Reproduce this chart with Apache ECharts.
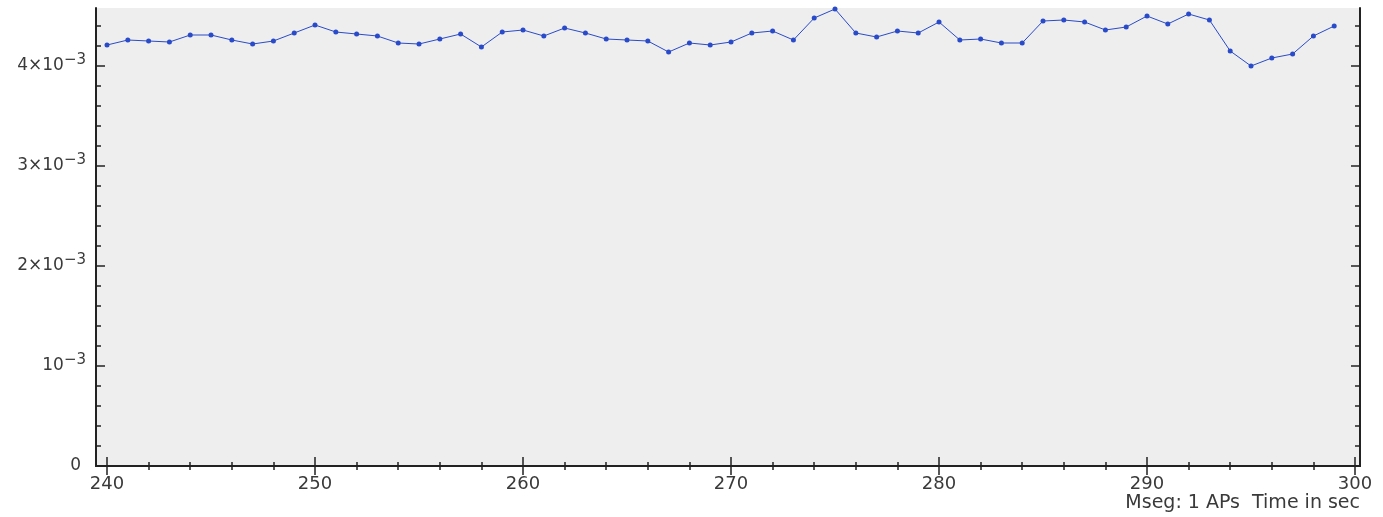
<!DOCTYPE html>
<html>
<head>
<meta charset="utf-8">
<script src="https://cdn.jsdelivr.net/npm/echarts@6/dist/echarts.min.js"></script>
<style>html,body{margin:0;padding:0;background:#fff;}#c{width:1383px;height:517px;}</style>
</head>
<body>
<div id="c"></div>
<script>
// ---- data ----
const times = [240,241,242,243,244,245,246,247,248,249,250,251,252,253,254,255,256,257,258,259,
  260,261,262,263,264,265,266,267,268,269,270,271,272,273,274,275,276,277,278,279,
  280,281,282,283,284,285,286,287,288,289,290,291,292,293,294,295,296,297,298,299];
const values = [4.21,4.26,4.25,4.24,4.31,4.31,4.26,4.22,4.25,4.33,4.41,4.34,4.32,4.30,4.23,4.22,4.27,4.32,4.19,4.34,
  4.36,4.30,4.38,4.33,4.27,4.26,4.25,4.14,4.23,4.21,4.24,4.33,4.35,4.26,4.48,4.57,4.33,4.29,4.35,4.33,
  4.44,4.26,4.27,4.23,4.23,4.45,4.46,4.44,4.36,4.39,4.50,4.42,4.52,4.46,4.15,4.00,4.08,4.12,4.30,4.40].map(v => v * 1e-3);
const xMajorTicks = [240,250,260,270,280,290,300];
const xMinorTicks = [240,242,244,246,248,250,252,254,256,258,260,262,264,266,268,270,272,274,276,278,280,282,284,286,288,290,292,294,296,298,300];
const yMajorTicks = [0,0.001,0.002,0.003,0.004];
const yMinorTicks = [0,0.0002,0.0004,0.0006,0.0008,0.001,0.0012,0.0014,0.0016,0.0018,0.002,0.0022,0.0024,0.0026,0.0028,0.003,0.0032,0.0034,0.0036,0.0038,0.004,0.0042,0.0044];
const footer = 'Mseg: 1 APs  Time in sec';

const X_MIN = 239.47, X_MAX = 300.24, Y_MIN = 0, Y_MAX = 0.00458;
const AXIS_COLOR = '#222';
const LINE_COLOR = '#2a4bc9';
const FONT = 'DejaVu Sans';
const TEXT_COLOR = '#3a3a3a';

function xAxisDef(pos, major, labels) {
  return {
    type: 'value', position: pos, min: X_MIN, max: X_MAX,
    axisLine: { show: major, lineStyle: { color: AXIS_COLOR, width: 2 } },
    axisTick: { show: true, inside: true, length: major ? 9 : 4, customValues: major ? xMajorTicks : xMinorTicks,
      lineStyle: { color: AXIS_COLOR, width: 1.5 } },
    axisLabel: labels ? { show: true, customValues: xMajorTicks, margin: 9, fontSize: 18, color: TEXT_COLOR, fontFamily: FONT,
      formatter: v => String(Math.round(v)) } : { show: false },
    splitLine: { show: false }, minorTick: { show: false }
  };
}
function yAxisDef(pos, major, labels) {
  return {
    type: 'value', position: pos, min: Y_MIN, max: Y_MAX,
    axisLine: { show: major, lineStyle: { color: AXIS_COLOR, width: 2 } },
    axisTick: { show: true, inside: true, length: major ? 9 : 5, customValues: major ? yMajorTicks : yMinorTicks,
      lineStyle: { color: AXIS_COLOR, width: 1.5 } },
    axisLabel: labels ? {
      show: true, customValues: yMajorTicks, margin: 10, fontFamily: FONT,
      formatter: v => {
        const n = Math.round(v * 1000);
        if (n === 0) return '{z|0}';
        if (n === 1) return '{b|10}{s|\u22123}';
        return '{b|' + n + '\u00d710}{s|\u22123}';
      },
      rich: {
        b: { fontSize: 17, color: TEXT_COLOR, fontFamily: FONT, lineHeight: 17, padding: [6, 0, 6, 0] },
        z: { fontSize: 17, color: TEXT_COLOR, fontFamily: FONT, lineHeight: 17, padding: [6, 5, 6, 0] },
        s: { fontSize: 15, color: TEXT_COLOR, fontFamily: FONT, lineHeight: 15, padding: [0, 0, 12, 0] }
      }
    } : { show: false },
    splitLine: { show: false }, minorTick: { show: false }
  };
}

const chart = echarts.init(document.getElementById('c'), null, { renderer: 'canvas' });
chart.setOption({
  animation: false,
  backgroundColor: '#ffffff',
  grid: { left: 96, right: 23, top: 8, bottom: 51, show: true, backgroundColor: '#eeeeee', borderWidth: 0 },
  xAxis: [xAxisDef('bottom', true, true), xAxisDef('bottom', false, false), xAxisDef('top', true, false), xAxisDef('top', false, false)],
  yAxis: [yAxisDef('left', true, true), yAxisDef('left', false, false), yAxisDef('right', true, false), yAxisDef('right', false, false)],
  series: [{
    type: 'line', xAxisIndex: 0, yAxisIndex: 0,
    data: times.map((t, i) => [t, values[i]]),
    symbol: 'circle', symbolSize: 5,
    lineStyle: { color: LINE_COLOR, width: 1 },
    itemStyle: { color: LINE_COLOR }
  }],
  graphic: [{
    type: 'text', right: 23, top: 494,
    style: { text: footer, fontSize: 19, fill: TEXT_COLOR, fontFamily: FONT }
  }]
});
</script>
</body>
</html>
